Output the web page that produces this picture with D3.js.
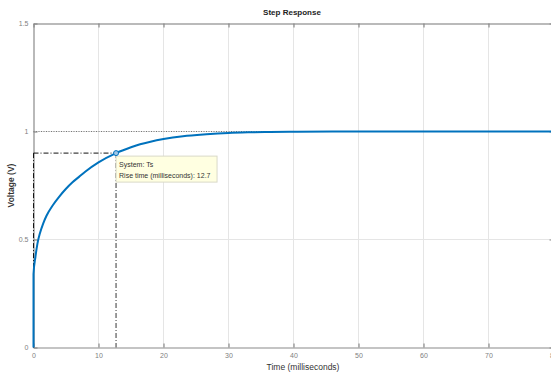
<!DOCTYPE html>
<html>
<head>
<meta charset="utf-8">
<script src="https://cdn.jsdelivr.net/npm/d3@7"></script>
<style>
  body { margin: 0; background: #fff; }
  svg { display: block; font-family: "Liberation Sans", Arial, sans-serif; }
</style>
</head>
<body>
<div id="chart"></div>
<script>
// step response of Ts
const timeMs = [0, 0, 0.3, 0.6, 1, 1.5, 2, 3, 4, 5, 6, 7, 8, 10, 12.7, 15, 16.4, 18, 20, 23, 26.6, 30, 33, 36.4, 40, 46, 55, 65, 80];
const voltage = [0, 0.34, 0.42, 0.48, 0.53, 0.575, 0.61, 0.66, 0.70, 0.735, 0.765, 0.79, 0.815, 0.857, 0.9, 0.927, 0.941, 0.953, 0.965, 0.978, 0.987, 0.993, 0.996, 0.998, 0.999, 1, 1, 1, 1];
const xTicks = [0, 10, 20, 30, 40, 50, 60, 70, 80];
const yTicks = [0, 0.5, 1, 1.5];
const yTickLabels = ['0', '0.5', '1', '1.5'];
const steadyState = 1;
const riseLevel = 0.9;
const riseStart = 0;
const riseTime = 12.7;

const W = 551, H = 374;
const margin = { top: 23.5, right: -2.5, bottom: 26.5, left: 33.5 };

const svg = d3.select('#chart').append('svg')
    .attr('width', W)
    .attr('height', H);

const x = d3.scaleLinear().domain([0, 80]).range([margin.left, W - margin.right]);
const y = d3.scaleLinear().domain([0, 1.5]).range([H - margin.bottom, margin.top]);

// grid
svg.append('g')
    .selectAll('line')
    .data(xTicks.slice(1, -1))
    .join('line')
    .attr('x1', d => x(d)).attr('x2', d => x(d))
    .attr('y1', y(0)).attr('y2', y(1.5))
    .attr('stroke', '#e5e5e5').attr('stroke-width', 1);
svg.append('g')
    .selectAll('line')
    .data(yTicks.slice(1, -1))
    .join('line')
    .attr('x1', x(0)).attr('x2', x(80))
    .attr('y1', d => y(d)).attr('y2', d => y(d))
    .attr('stroke', '#e5e5e5').attr('stroke-width', 1);

// steady state line
svg.append('line')
    .attr('x1', x(0)).attr('x2', x(80))
    .attr('y1', y(steadyState)).attr('y2', y(steadyState))
    .attr('stroke', '#777').attr('stroke-width', 1)
    .attr('stroke-dasharray', '1,1.5');

// axes
const tickFmt = (d, i) => yTickLabels[i];
const gx = svg.append('g')
    .attr('transform', 'translate(0,' + y(0) + ')')
    .call(d3.axisBottom(x).tickValues(xTicks).tickSizeInner(-4).tickSizeOuter(0).tickPadding(6));
const gxTop = svg.append('g')
    .attr('transform', 'translate(0,' + y(1.5) + ')')
    .call(d3.axisTop(x).tickValues(xTicks).tickSizeInner(-4).tickSizeOuter(0).tickFormat(''));
const gy = svg.append('g')
    .attr('transform', 'translate(' + x(0) + ',0)')
    .call(d3.axisLeft(y).tickValues(yTicks).tickSizeInner(-4).tickSizeOuter(0).tickPadding(5).tickFormat(tickFmt));
const gyR = svg.append('g')
    .attr('transform', 'translate(' + x(80) + ',0)')
    .call(d3.axisRight(y).tickValues(yTicks).tickSizeInner(-4).tickSizeOuter(0).tickFormat(''));

[gx, gxTop, gy, gyR].forEach(g => {
    g.select('.domain').attr('stroke', '#8a8a8a').attr('stroke-width', 1.2);
    g.selectAll('.tick line').attr('stroke', '#8a8a8a').attr('stroke-width', 1.2);
    g.selectAll('.tick text').attr('fill', '#808080').style('font-size', '7px');
});
gxTop.select('.domain').attr('stroke', '#777');

// rise time markers
const dashDot = '5,2,1,2';
svg.append('line')
    .attr('x1', x(riseStart)).attr('x2', x(riseTime))
    .attr('y1', y(riseLevel)).attr('y2', y(riseLevel))
    .attr('stroke', '#111').attr('stroke-width', 1).attr('stroke-dasharray', dashDot);
svg.append('line')
    .attr('x1', x(riseStart)).attr('x2', x(riseStart))
    .attr('y1', y(riseLevel)).attr('y2', y(0))
    .attr('stroke', '#111').attr('stroke-width', 1).attr('stroke-dasharray', dashDot);
svg.append('line')
    .attr('x1', x(riseTime)).attr('x2', x(riseTime))
    .attr('y1', y(riseLevel)).attr('y2', y(0))
    .attr('stroke', '#666').attr('stroke-width', 1.3).attr('stroke-dasharray', dashDot);

// response curve
const line = d3.line()
    .x((d, i) => x(timeMs[i]))
    .y(d => y(d))
    .curve(d3.curveMonotoneX);
svg.append('path')
    .datum(voltage)
    .attr('fill', 'none')
    .attr('stroke', '#0072bd')
    .attr('stroke-width', 2)
    .attr('d', line);

// data tip
const tipX = x(riseTime), tipY = y(riseLevel);
svg.append('rect')
    .attr('x', tipX).attr('y', tipY + 3)
    .attr('width', 101).attr('height', 26)
    .attr('fill', '#ffffe1').attr('stroke', '#d9d9c8').attr('stroke-width', 1);
svg.append('text')
    .attr('x', tipX + 3).attr('y', tipY + 13.5)
    .attr('fill', '#333').style('font-size', '7px')
    .text('System: Ts');
svg.append('text')
    .attr('x', tipX + 3).attr('y', tipY + 25)
    .attr('fill', '#333').style('font-size', '7px')
    .text('Rise time (milliseconds): 12.7');
svg.append('circle')
    .attr('cx', tipX).attr('cy', tipY).attr('r', 2.5)
    .attr('fill', '#9fc6e6').attr('stroke', '#0072bd').attr('stroke-width', 1);

// labels
svg.append('text')
    .attr('x', 292).attr('y', 15)
    .attr('text-anchor', 'middle')
    .attr('fill', '#222').style('font-size', '8px').style('font-weight', 'bold')
    .text('Step Response');
svg.append('text')
    .attr('x', 303).attr('y', 370)
    .attr('text-anchor', 'middle')
    .attr('fill', '#333').style('font-size', '8.5px')
    .text('Time (milliseconds)');
svg.append('text')
    .attr('transform', 'translate(14,' + y(0.75) + ') rotate(-90)')
    .attr('text-anchor', 'middle')
    .attr('fill', '#333').style('font-size', '8.5px').style('font-weight', 'bold')
    .text('Voltage (V)');
</script>
</body>
</html>
